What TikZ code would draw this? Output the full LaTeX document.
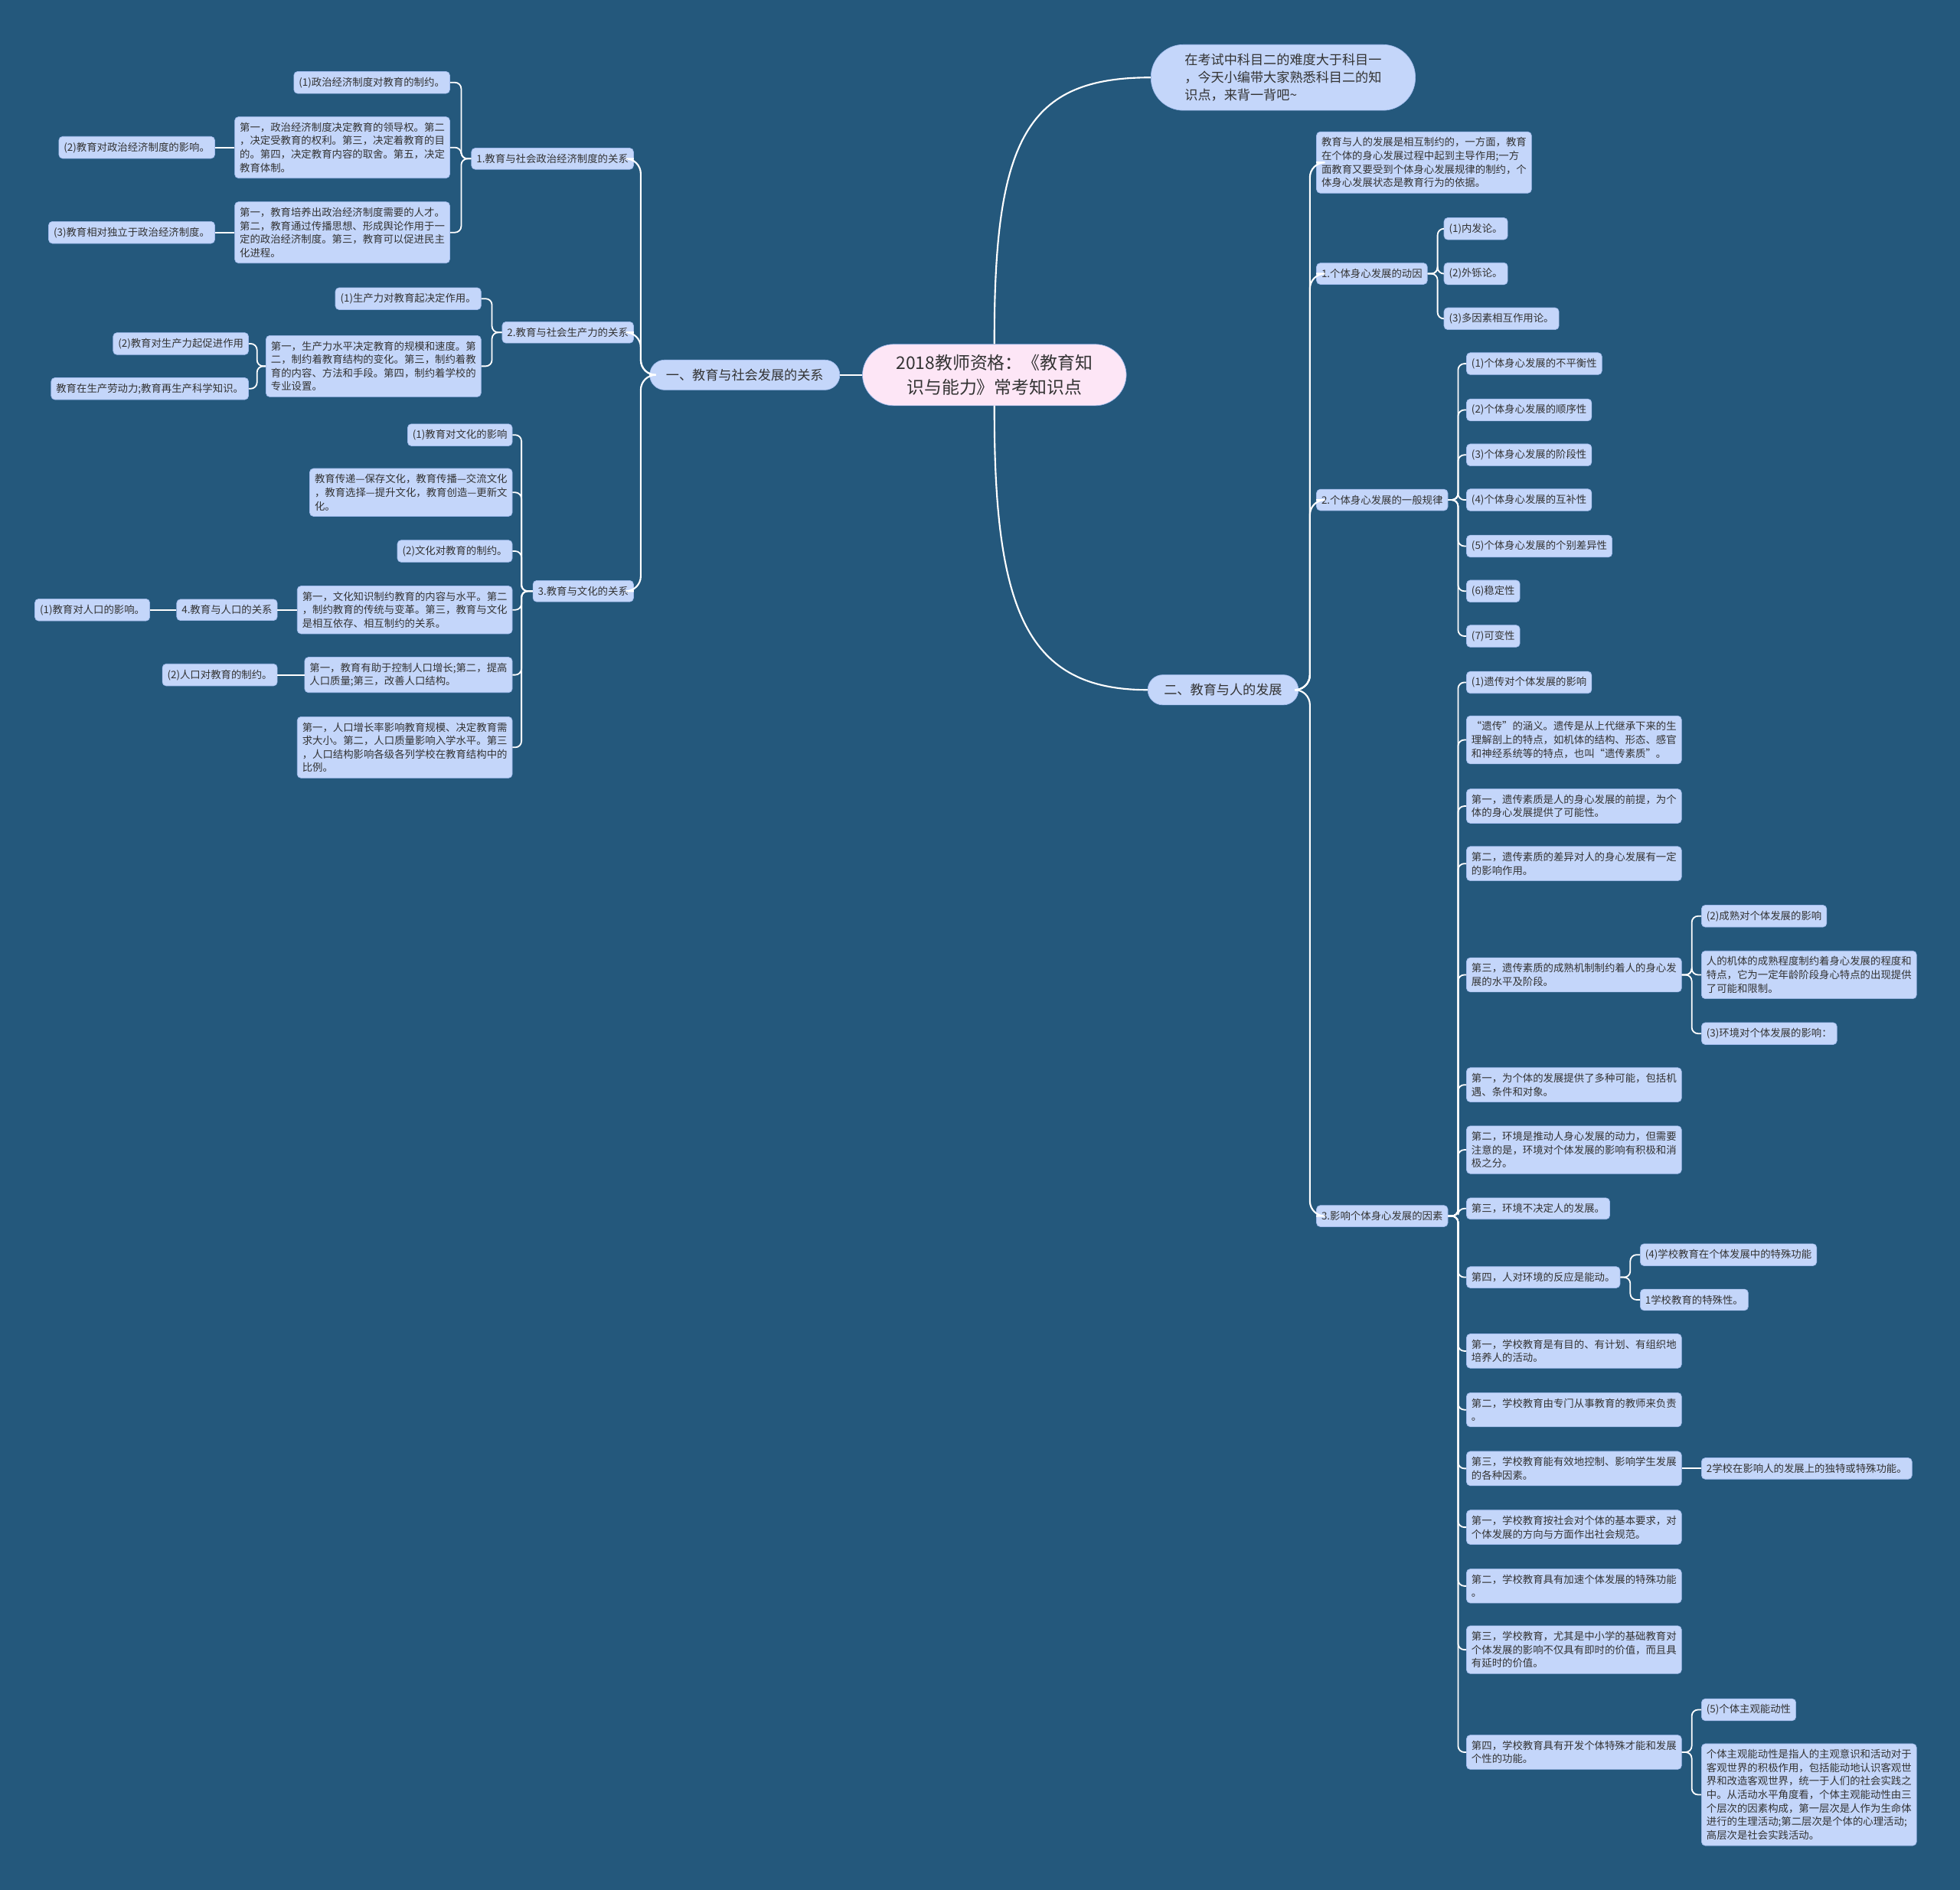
\documentclass[tikz,border=0pt]{standalone}
\usepackage{fontspec}
\setmainfont{Noto Sans CJK SC}
\definecolor{bgblue}{RGB}{36,88,124}
\definecolor{boxfill}{RGB}{196,214,250}
\definecolor{boxline}{RGB}{160,186,236}
\definecolor{rootfill}{RGB}{253,230,246}
\definecolor{ink}{RGB}{51,51,51}
\begin{document}
\begin{tikzpicture}[x=1pt,y=-1pt,
    leaf/.style={fill=boxfill,draw=boxline,line width=0.4pt,rounded corners=3pt,
      text=ink,font=\fontsize{8.2}{10.8}\selectfont,inner xsep=4pt,inner ysep=4.5pt,
      minimum height=17pt,align=left},
    topic/.style={fill=boxfill,draw=boxline,line width=0.4pt,rounded corners=12pt,
      text=ink,font=\fontsize{10.5}{14}\selectfont,inner xsep=13pt,minimum height=24pt},
    tip/.style={fill=boxfill,draw=boxline,line width=0.4pt,rounded corners=26pt,
      text=ink,font=\fontsize{10.5}{14}\selectfont,inner xsep=27pt,inner ysep=7.3pt,align=left},
    centre/.style={fill=rootfill,draw=boxline,line width=0.4pt,rounded corners=25pt,
      text=ink,font=\fontsize{14}{19}\selectfont,inner xsep=27pt,inner ysep=8.5pt,align=center},
    link/.style={draw=white,line width=1.1pt,rounded corners=5pt},
    trunk/.style={draw=white,line width=1.3pt,rounded corners=12pt}]
    \fill[bgblue] (0,0) rectangle (1568,1512);
    \path[use as bounding box] (0,0) rectangle (1568,1512);
    % centre and first level
    \node[centre] (root) at (795.5,300) {2018教师资格：《教育知\\识与能力》常考知识点};
    \node[tip] (tip) at (1026.5,62) {在考试中科目二的难度大于科目一\\，今天小编带大家熟悉科目二的知\\识点，来背一背吧\textasciitilde};
    \node[topic,anchor=east] (soc) at (672,300) {一、教育与社会发展的关系};
    \node[topic,anchor=west] (hum) at (918,552) {二、教育与人的发展};
    \draw[trunk] (root.west) -- (soc.east);
    \draw[trunk] (root.north) .. controls (795,110) and (822,62) .. (tip.west);
    \draw[trunk] (root.south) .. controls (795,490) and (822,552) .. (hum.west);
    % left side
    \node[leaf,anchor=east] (pol) at (507,127) {1.教育与社会政治经济制度的关系};
    \node[leaf,anchor=east] (prod) at (507,266) {2.教育与社会生产力的关系};
    \node[leaf,anchor=east] (cult) at (507,473) {3.教育与文化的关系};
    \foreach \c in {pol,prod,cult} \draw[trunk] (soc.west) -- ++(-7,0) |- (\c.east);
    \node[leaf,anchor=east] (pola) at (360,66) {(1)政治经济制度对教育的制约。};
    \node[leaf,anchor=east] (polb) at (360,118) {第一，政治经济制度决定教育的领导权。第二\\，决定受教育的权利。第三，决定着教育的目\\的。第四，决定教育内容的取舍。第五，决定\\教育体制。};
    \node[leaf,anchor=east] (polc) at (360,186) {第一，教育培养出政治经济制度需要的人才。\\第二，教育通过传播思想、形成舆论作用于一\\定的政治经济制度。第三，教育可以促进民主\\化进程。};
    \node[leaf,anchor=east] (polbx) at (172,118) {(2)教育对政治经济制度的影响。};
    \node[leaf,anchor=east] (polcx) at (172,186) {(3)教育相对独立于政治经济制度。};
    \foreach \c in {pola,polb,polc} \draw[link] (pol.west) -- ++(-8,0) |- (\c.east);
    \draw[link] (polb.west) -- (polbx.east);
    \draw[link] (polc.west) -- (polcx.east);
    \node[leaf,anchor=east] (proda) at (385,239) {(1)生产力对教育起决定作用。};
    \node[leaf,anchor=east] (prodb) at (385,293) {第一，生产力水平决定教育的规模和速度。第\\二，制约着教育结构的变化。第三，制约着教\\育的内容、方法和手段。第四，制约着学校的\\专业设置。};
    \node[leaf,anchor=east] (prodbx) at (199,275) {(2)教育对生产力起促进作用};
    \node[leaf,anchor=east] (prodby) at (199,311) {教育在生产劳动力;教育再生产科学知识。};
    \foreach \c in {proda,prodb} \draw[link] (prod.west) -- ++(-8,0) |- (\c.east);
    \foreach \c in {prodbx,prodby} \draw[link] (prodb.west) -- ++(-7,0) |- (\c.east);
    \node[leaf,anchor=east] (culta) at (410,348) {(1)教育对文化的影响};
    \node[leaf,anchor=east] (cultb) at (410,394) {教育传递—保存文化，教育传播—交流文化\\，教育选择—提升文化，教育创造—更新文\\化。};
    \node[leaf,anchor=east] (cultc) at (410,441) {(2)文化对教育的制约。};
    \node[leaf,anchor=east] (cultd) at (410,488) {第一，文化知识制约教育的内容与水平。第二\\，制约教育的传统与变革。第三，教育与文化\\是相互依存、相互制约的关系。};
    \node[leaf,anchor=east] (culte) at (410,540) {第一，教育有助于控制人口增长;第二，提高\\人口质量;第三，改善人口结构。};
    \node[leaf,anchor=east] (cultf) at (410,598) {第一，人口增长率影响教育规模、决定教育需\\求大小。第二，人口质量影响入学水平。第三\\，人口结构影响各级各列学校在教育结构中的\\比例。};
    \node[leaf,anchor=east] (pop) at (222,488) {4.教育与人口的关系};
    \node[leaf,anchor=east] (popa) at (120,488) {(1)教育对人口的影响。};
    \node[leaf,anchor=east] (pope) at (222,540) {(2)人口对教育的制约。};
    \foreach \c in {culta,cultb,cultc,cultd,culte,cultf} \draw[link] (cult.west) -- ++(-9,0) |- (\c.east);
    \draw[link] (cultd.west) -- (pop.east);
    \draw[link] (pop.west) -- (popa.east);
    \draw[link] (culte.west) -- (pope.east);
    % right side
    \node[leaf,anchor=west] (mut) at (1053,130) {教育与人的发展是相互制约的，一方面，教育\\在个体的身心发展过程中起到主导作用;一方\\面教育又要受到个体身心发展规律的制约，个\\体身心发展状态是教育行为的依据。};
    \node[leaf,anchor=west] (drv) at (1053,219) {1.个体身心发展的动因};
    \node[leaf,anchor=west] (law) at (1053,400) {2.个体身心发展的一般规律};
    \node[leaf,anchor=west] (fac) at (1053,973) {3.影响个体身心发展的因素};
    \foreach \c in {mut,drv,law,fac} \draw[trunk] (hum.east) -- ++(9,0) |- (\c.west);
    \foreach \n/\y/\t in {drv1/183/{(1)内发论。},drv2/219/{(2)外铄论。},drv3/255/{(3)多因素相互作用论。}} {
      \node[leaf,anchor=west] (\n) at (1155,\y) {\t};
      \draw[link] (drv.east) -- ++(8,0) |- (\n.west);
    }
    \foreach \n/\y/\t in {law1/291/{(1)个体身心发展的不平衡性},law2/328/{(2)个体身心发展的顺序性},
        law3/364/{(3)个体身心发展的阶段性},law4/400/{(4)个体身心发展的互补性},
        law5/437/{(5)个体身心发展的个别差异性},law6/473/{(6)稳定性},law7/509/{(7)可变性}} {
      \node[leaf,anchor=west] (\n) at (1173,\y) {\t};
      \draw[link] (law.east) -- ++(8,0) |- (\n.west);
    }
    \foreach \n/\y/\t in {
        fac1/546/{(1)遗传对个体发展的影响},
        fac2/592/{“遗传”的涵义。遗传是从上代继承下来的生\\理解剖上的特点，如机体的结构、形态、感官\\和神经系统等的特点，也叫“遗传素质”。},
        fac3/645/{第一，遗传素质是人的身心发展的前提，为个\\体的身心发展提供了可能性。},
        fac4/691/{第二，遗传素质的差异对人的身心发展有一定\\的影响作用。},
        fac5/780/{第三，遗传素质的成熟机制制约着人的身心发\\展的水平及阶段。},
        fac6/868/{第一，为个体的发展提供了多种可能，包括机\\遇、条件和对象。},
        fac7/920/{第二，环境是推动人身心发展的动力，但需要\\注意的是，环境对个体发展的影响有积极和消\\极之分。},
        fac8/967/{第三，环境不决定人的发展。},
        fac9/1022/{第四，人对环境的反应是能动。},
        fac10/1081/{第一，学校教育是有目的、有计划、有组织地\\培养人的活动。},
        fac11/1128/{第二，学校教育由专门从事教育的教师来负责\\。},
        fac12/1175/{第三，学校教育能有效地控制、影响学生发展\\的各种因素。},
        fac13/1222/{第一，学校教育按社会对个体的基本要求，对\\个体发展的方向与方面作出社会规范。},
        fac14/1269/{第二，学校教育具有加速个体发展的特殊功能\\。},
        fac15/1320/{第三，学校教育，尤其是中小学的基础教育对\\个体发展的影响不仅具有即时的价值，而且具\\有延时的价值。},
        fac16/1402/{第四，学校教育具有开发个体特殊才能和发展\\个性的功能。}} {
      \node[leaf,anchor=west] (\n) at (1173,\y) {\t};
      \draw[link] (fac.east) -- ++(8,0) |- (\n.west);
    }
    \node[leaf,anchor=west] (mat1) at (1361,733) {(2)成熟对个体发展的影响};
    \node[leaf,anchor=west] (mat2) at (1361,780) {人的机体的成熟程度制约着身心发展的程度和\\特点，它为一定年龄阶段身心特点的出现提供\\了可能和限制。};
    \node[leaf,anchor=west] (mat3) at (1361,827) {(3)环境对个体发展的影响：};
    \foreach \c in {mat1,mat2,mat3} \draw[link] (fac5.east) -- ++(8,0) |- (\c.west);
    \node[leaf,anchor=west] (sch1) at (1312,1004) {(4)学校教育在个体发展中的特殊功能};
    \node[leaf,anchor=west] (sch2) at (1312,1040) {1学校教育的特殊性。};
    \foreach \c in {sch1,sch2} \draw[link] (fac9.east) -- ++(8,0) |- (\c.west);
    \node[leaf,anchor=west] (sch3) at (1361,1175) {2学校在影响人的发展上的独特或特殊功能。};
    \draw[link] (fac12.east) -- (sch3.west);
    \node[leaf,anchor=west] (act1) at (1361,1368) {(5)个体主观能动性};
    \node[leaf,anchor=west] (act2) at (1361,1436) {个体主观能动性是指人的主观意识和活动对于\\客观世界的积极作用，包括能动地认识客观世\\界和改造客观世界，统一于人们的社会实践之\\中。从活动水平角度看，个体主观能动性由三\\个层次的因素构成，第一层次是人作为生命体\\进行的生理活动;第二层次是个体的心理活动;\\高层次是社会实践活动。};
    \foreach \c in {act1,act2} \draw[link] (fac16.east) -- ++(8,0) |- (\c.west);
\end{tikzpicture}
\end{document}
